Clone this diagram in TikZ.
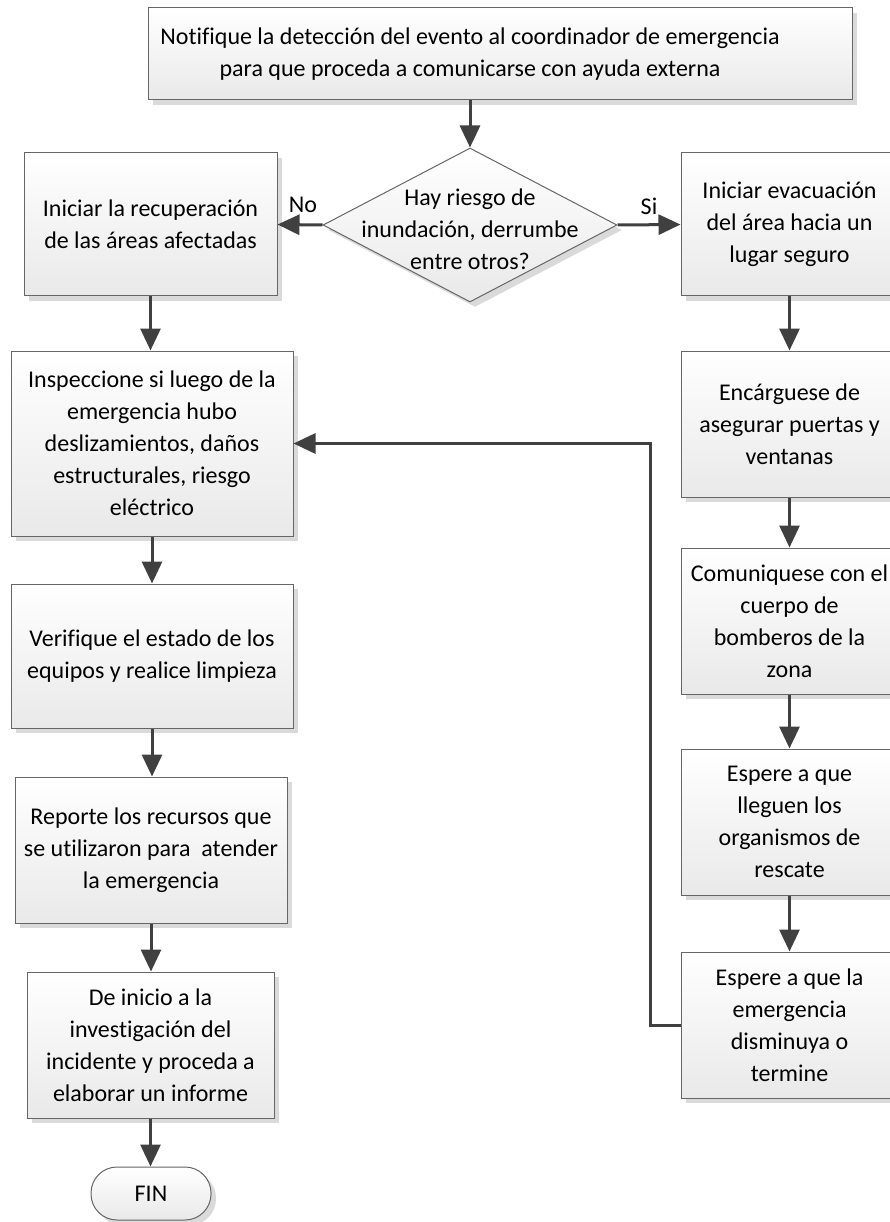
\documentclass[tikz,border=0pt]{standalone}
\usepackage{fontspec}
\setmainfont{Carlito}[Ligatures={NoCommon}]
\usetikzlibrary{shapes.geometric,arrows.meta,shadows}
\definecolor{boxline}{HTML}{666666}
\definecolor{boxfill}{HTML}{E9E9E9}
\definecolor{shadowc}{HTML}{DADADA}
\definecolor{arrowc}{HTML}{404040}
\begin{document}
\begin{tikzpicture}[x=1pt,y=-1pt,
  font=\fontsize{24}{32}\selectfont,
  box/.style={rectangle, draw=boxline, line width=1pt, top color=white, bottom color=boxfill,
    align=center, inner sep=0pt,
    drop shadow={shadow xshift=5pt, shadow yshift=-5pt, fill=shadowc, opacity=1}},
  decision/.style={diamond, draw=boxline, line width=1pt, top color=white, bottom color=boxfill,
    inner sep=0pt, aspect=1.9, minimum width=294pt, minimum height=154pt,
    drop shadow={shadow xshift=5pt, shadow yshift=-5pt, fill=shadowc, opacity=1}},
  terminal/.style={rectangle, rounded corners=26pt, draw=boxline, line width=1pt, top color=white, bottom color=boxfill,
    inner sep=0pt,
    drop shadow={shadow xshift=5pt, shadow yshift=-5pt, fill=shadowc, opacity=1}},
  arr/.style={draw=arrowc, line width=3pt, -{Triangle[length=22pt,width=20pt]}},
  lbl/.style={inner sep=0pt}
]
\useasboundingbox (0,0) rectangle (889,1222);

% top
\node[box, minimum width=704pt, minimum height=92pt] (notif) at (500,54) {};
\node[lbl, align=center] (notiftext) at (470,54)
  {Notifique la detección del evento al coordinador de emergencia\\para que proceda a comunicarse con ayuda externa};

% decision
\node[decision] (dec) at (470,225) {};
\node[lbl, align=center] (dectext) at (470,229) {Hay riesgo de\\inundación, derrumbe\\entre otros?};

% left column
\node[box, minimum width=253pt, minimum height=143pt] (recup) at (150.5,224.5)
  {Iniciar la recuperación\\de las áreas afectadas};
\node[box, minimum width=282pt, minimum height=185pt] (insp) at (152,443.5)
  {Inspeccione si luego de la\\emergencia hubo\\deslizamientos, daños\\estructurales, riesgo\\eléctrico};
\node[box, minimum width=282pt, minimum height=144pt] (verif) at (152,656)
  {Verifique el estado de los\\equipos y realice limpieza};
\node[box, minimum width=272pt, minimum height=146pt] (report) at (151,850)
  {Reporte los recursos que\\se utilizaron para\ \ atender\\la emergencia};
\node[box, minimum width=247pt, minimum height=146pt] (invest) at (150.5,1045)
  {De inicio a la\\investigación del\\incidente y proceda a\\elaborar un informe};
\node[terminal, minimum width=120pt, minimum height=53pt] (fin) at (151,1193.5) {FIN};

% right column
\node[box, minimum width=217pt, minimum height=143pt] (evac) at (789.5,224.5)
  {Iniciar evacuación\\del área hacia un\\lugar seguro};
\node[box, minimum width=217pt, minimum height=146pt] (asegur) at (789.5,424)
  {Encárguese de\\asegurar puertas y\\ventanas};
\node[box, minimum width=217pt, minimum height=146pt] (bomb) at (789.5,621)
  {Comuniquese con el\\cuerpo de\\bomberos de la\\zona};
\node[box, minimum width=217pt, minimum height=146pt] (rescate) at (789.5,822)
  {Espere a que\\lleguen los\\organismos de\\rescate};
\node[box, minimum width=217pt, minimum height=146pt] (emerg) at (789.5,1025)
  {Espere a que la\\emergencia\\disminuya o\\termine};

% labels
\node[lbl] (no) at (303,205) {No};
\node[lbl] (si) at (649,206) {Si};

% connectors
\draw[arr] (dec.north |- notif.south) -- (dec.north);
\draw[arr] (dec.west) -- (recup.east);
\draw[arr] (dec.east) -- (evac.west);
\draw[arr] (recup.south) -- (recup.south |- insp.north);
\draw[arr] (insp.south) -- (insp.south |- verif.north);
\draw[arr] (verif.south) -- (verif.south |- report.north);
\draw[arr] (report.south) -- (report.south |- invest.north);
\draw[arr] (invest.south) -- (invest.south |- fin.north);
\draw[arr] (evac.south) -- (asegur.north);
\draw[arr] (asegur.south) -- (bomb.north);
\draw[arr] (bomb.south) -- (rescate.north);
\draw[arr] (rescate.south) -- (emerg.north);
\coordinate (fbx) at (650,0);
\draw[arr] (emerg.west) -| (fbx |- insp.east) -- (insp.east);
\end{tikzpicture}
\end{document}
